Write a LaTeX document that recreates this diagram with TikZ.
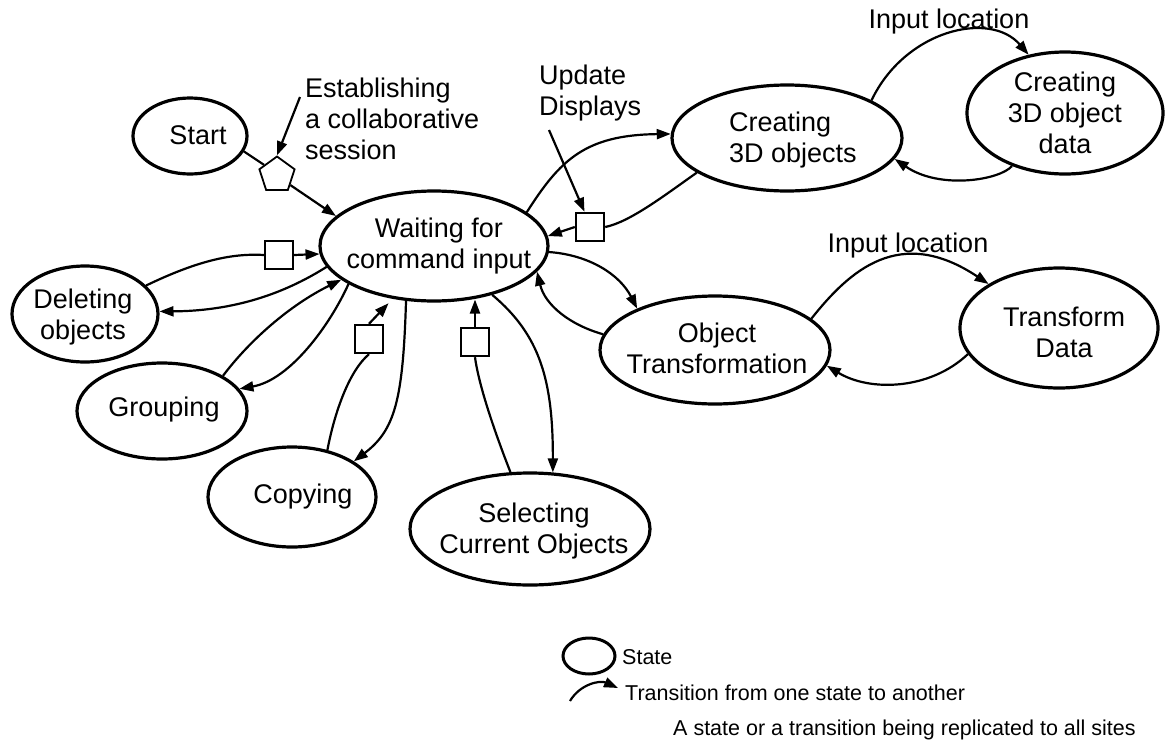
\documentclass[tikz,border=0pt]{standalone}
\usepackage{fontspec}
\setmainfont{Liberation Sans}
\usetikzlibrary{shapes.geometric,arrows.meta}
\begin{document}
\begin{tikzpicture}[x=1pt,y=-1pt,
  stateel/.style={draw, ellipse, line width=3.2pt, inner sep=0pt},
  lbl/.style={font=\fontsize{27}{31}\selectfont, align=center, inner sep=0pt},
  leg/.style={font=\fontsize{21.5}{25}\selectfont, anchor=west, inner sep=0pt},
  rep/.style={draw, rectangle, minimum size=28pt, inner sep=0pt, line width=2.4pt, fill=white},
  ln/.style={line width=2.2pt},
  tr/.style={line width=2.2pt, -{Triangle[length=14pt,width=10pt]}}]
\useasboundingbox (0,0) rectangle (1165,742);

% states
\node[stateel, minimum width=114pt, minimum height=76pt] (start) at (190,136) {};
\node[lbl] (startT) at (198,135) {Start};
\node[stateel, minimum width=228pt, minimum height=110pt] (wait) at (434,246) {};
\node[lbl] (waitT) at (439,246) {Waiting for\\command input};
\node[stateel, minimum width=230pt, minimum height=106pt] (create) at (787,138) {};
\node[lbl, align=left, anchor=west] (createT) at (729,140) {Creating\\3D objects};
\node[stateel, minimum width=196pt, minimum height=122pt] (cdata) at (1065,113) {};
\node[lbl] (cdataT) at (1065,113) {Creating\\3D object\\data};
\node[stateel, minimum width=146pt, minimum height=96pt] (del) at (85,314) {};
\node[lbl] (delT) at (83,317) {Deleting\\objects};
\node[stateel, minimum width=170pt, minimum height=96pt] (group) at (162,411) {};
\node[lbl] (groupT) at (164,410) {Grouping};
\node[stateel, minimum width=168pt, minimum height=100pt] (copy) at (292,497) {};
\node[lbl] (copyT) at (303,497) {Copying};
\node[stateel, minimum width=240pt, minimum height=112pt] (select) at (530,529) {};
\node[lbl] (selectT) at (534,531) {Selecting\\Current Objects};
\node[stateel, minimum width=230pt, minimum height=108pt] (objt) at (715,350) {};
\node[lbl] (objtT) at (717,348) {Object\\Transformation};
\node[stateel, minimum width=198pt, minimum height=120pt] (tdata) at (1059,328) {};
\node[lbl] (tdataT) at (1064,332) {Transform\\Data};

% replication markers
\node[draw, regular polygon, regular polygon sides=5, minimum size=37pt, inner sep=0pt, line width=1.8pt] (pent) at (277,175) {};
\node[rep] (sqDel) at (279,255) {};
\node[rep] (sqCopy) at (369,339) {};
\node[rep] (sqSel) at (475,342) {};
\node[rep] (sqCr) at (590,227) {};

% labels
\node[lbl, align=left, anchor=west] (estab) at (305,119) {Establishing\\a collaborative\\session};
\node[lbl, align=left, anchor=west] (upd) at (539,93) {Update\\Displays};
\node[lbl] (in1) at (949,22) {Input location};
\node[lbl] (in2) at (908,246) {Input location};
\coordinate (estabTail) at (300,97);
\coordinate (updTail) at (549,130);

% connectors
\draw[ln] (start.-16) -- (pent.142);
\draw[tr] (pent.-37) -- (wait.163);
\draw[tr] (estabTail) -- (pent.north);
\draw[ln] (del.25) .. controls (195,262) and (230,253) .. (sqDel.west);
\draw[tr] (sqDel.east) -- (wait.184);
\draw[tr] (wait.191) .. controls (290,290) and (240,311) .. (del.2);
\draw[tr] (group.30) .. controls (250,340) and (290,305) .. (wait.200);
\draw[tr] (wait.204) .. controls (330,325) and (290,380) .. (group.16);
\draw[ln] (copy.53) .. controls (335,410) and (350,370) .. (sqCopy.south);
\draw[tr, shorten >=6pt] (sqCopy.north) -- (wait.232);
\draw[tr] (wait.243) .. controls (403,400) and (395,430) .. (copy.30);
\draw[ln] (select.109) .. controls (490,420) and (478,380) .. (sqSel.south);
\draw[tr] (sqSel.north) -- (sqSel.north |- wait.-55);
\draw[tr] (wait.-40) .. controls (540,335) and (553,380) .. (select.68);
\draw[tr] (wait.-3) .. controls (590,255) and (620,275) .. (objt.152);
\draw[tr] (objt.172) .. controls (570,325) and (545,305) .. (wait.-14);
\draw[tr] (wait.20) .. controls (560,160) and (585,135) .. (create.178);
\draw[ln] (create.201) .. controls (665,195) and (630,222) .. (sqCr.east);
\draw[tr] (sqCr.west) -- (wait.5);
\draw[tr] (updTail) -- (sqCr.110);
\draw[tr] (create.24) .. controls (905,30) and (990,10) .. (cdata.122);
\draw[tr] (cdata.225) .. controls (1000,180) and (940,190) .. (create.-11);
\draw[tr] (objt.18) .. controls (850,270) and (900,225) .. (tdata.148);
\draw[tr] (tdata.196) .. controls (930,390) and (870,392) .. (objt.-8);

% legend
\node[stateel, line width=3pt, minimum width=52pt, minimum height=36pt] (legS) at (589,656) {};
\node[leg] (legST) at (622,657) {State};
\coordinate (legA) at (570,701);
\coordinate (legB) at (618,688);
\draw[tr] (legA) .. controls (580,684) and (600,680) .. (legB);
\node[leg] (legTT) at (625,693) {Transition from one state to another};
\node[leg] (legRT) at (673,730) {A state or a transition being replicated to all sites};
\end{tikzpicture}
\end{document}
